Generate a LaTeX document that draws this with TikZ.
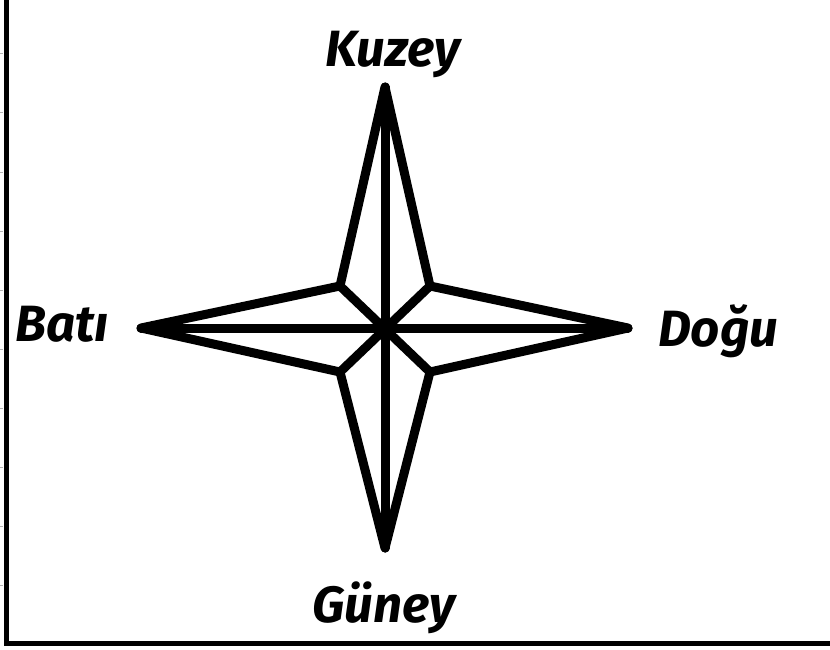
\documentclass[tikz,border=0pt]{standalone}
\usepackage{fontspec}
\setmainfont{Fira Sans}
\usepackage{tikz}

\begin{document}
\begin{tikzpicture}[x=1pt, y=-1pt,
  starline/.style = {line width=9pt, line join=round, line cap=round},
  dirname/.style = {font=\fontsize{51}{55}\selectfont\bfseries\itshape, inner sep=0pt},
  frame/.style = {line width=5pt}]
  \useasboundingbox (0,0) rectangle (830,650);
  % frame and small ticks on the left
  \draw[frame] (6.5,0) -- (6.5,643) -- (830,643);
  \foreach \ty in {54,113,...,590}
    \draw[gray!60, line width=1pt] (0,\ty) -- (3,\ty);
  % points of the star
  \coordinate (c) at (385,328);
  \coordinate (n) at (385,87);
  \coordinate (s) at (385,548);
  \coordinate (w) at (141,328);
  \coordinate (e) at (628,328);
  \coordinate (ne) at (430,286);
  \coordinate (nw) at (340,286);
  \coordinate (sw) at (340,372);
  \coordinate (se) at (430,372);
  \draw[starline] (n) -- (ne) -- (e) -- (se) -- (s) -- (sw) -- (w) -- (nw) -- cycle;
  \draw[starline] (n) -- (s) (w) -- (e);
  \draw[starline] (nw) -- (se) (ne) -- (sw);
  % direction names
  \node[dirname] (kuzey) at (393,54) {Kuzey};
  \node[dirname] (guney) at (384,608) {Güney};
  \node[dirname, anchor=west] (bati) at (15,324) {Batı};
  \node[dirname, anchor=west] (dogu) at (658,331) {Doğu};
\end{tikzpicture}
\end{document}
